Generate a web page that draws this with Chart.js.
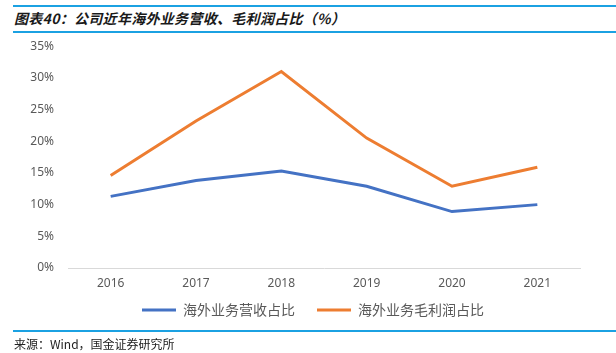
<!DOCTYPE html>
<html><head><meta charset="utf-8">
<script src="https://cdn.jsdelivr.net/npm/chart.js@4"></script>
<style>
html,body{margin:0;padding:0;background:#fff;}
#wrap{position:relative;width:616px;height:353px;overflow:hidden;}
.rule{position:absolute;left:13px;right:0;height:2px;background:#1ba1e2;}
#title{position:absolute;left:14px;top:8px;font-family:"Noto Sans CJK SC";font-weight:bold;font-size:14px;color:#1a1a1a;font-style:italic;letter-spacing:0.3px;}
#foot{position:absolute;left:14px;top:335px;font-family:"Noto Sans CJK SC";font-size:12px;color:#222;}
#cv{position:absolute;left:0;top:25px;}
</style></head>
<body><div id="wrap">
<div class="rule" style="top:5px"></div>
<div id="title">图表40：公司近年海外业务营收、毛利润占比（%）</div>
<div class="rule" style="top:31px"></div>
<canvas id="cv" width="616" height="315"></canvas>
<div class="rule" style="top:330px;height:1.5px"></div>
<div id="foot">来源：Wind，国金证券研究所</div>
</div>
<script>
const categories = ["2016","2017","2018","2019","2020","2021"];
const revenueShare = [11.3, 13.8, 15.3, 12.9, 8.9, 10.0];
const grossProfitShare = [14.6, 23.2, 31.0, 20.5, 12.9, 15.9];
const seriesNames = ["海外业务营收占比","海外业务毛利润占比"];
const yTicks = [0,5,10,15,20,25,30,35];

const shiftLegend = {
  id: 'shiftLegend',
  afterLayout(chart) {
    const lg = chart.legend;
    lg.left += 23; lg.right += 23;
    lg.top -= 13; lg.bottom -= 13;
  }
};

new Chart(document.getElementById('cv'), {
  type: 'line',
  data: {
    labels: categories,
    datasets: [
      {label: seriesNames[0], data: revenueShare, borderColor: '#4472C4', backgroundColor: '#4472C4', borderWidth: 3, pointRadius: 0, tension: 0},
      {label: seriesNames[1], data: grossProfitShare, borderColor: '#ED7D31', backgroundColor: '#ED7D31', borderWidth: 3, pointRadius: 0, tension: 0}
    ]
  },
  plugins: [shiftLegend],
  options: {
    responsive: false, animation: false,
    layout: {padding: {left: 0, right: 36, top: 4, bottom: 0}},
    plugins: {
      tooltip: {enabled: false},
      legend: {
        position: 'bottom',
        labels: {
          boxWidth: 34, boxHeight: 3,
          generateLabels: ch => ch.data.datasets.map((d, i) => ({
            text: d.label, fillStyle: d.borderColor, strokeStyle: d.borderColor, lineWidth: 0,
            fontColor: '#595959', datasetIndex: i, hidden: false
          })),
          color: '#595959', font: {family: '"Noto Sans CJK SC"', size: 14}, padding: 22
        }
      }
    },
    scales: {
      x: {
        offset: true,
        grid: {display: false, drawTicks: false},
        border: {display: true, color: '#d9d9d9', width: 1},
        ticks: {color: '#595959', font: {family: '"Noto Sans", sans-serif', size: 12}, padding: 8},
        afterFit: s => { s.height = 26; }
      },
      y: {
        min: 0, max: 35,
        afterBuildTicks: s => { s.ticks = yTicks.map(v => ({value: v})); },
        grid: {display: false, drawTicks: false},
        border: {display: false},
        ticks: {color: '#595959', font: {family: '"Noto Sans", sans-serif', size: 12}, padding: 14, callback: v => v + '%'},
        afterFit: s => { s.width = 68; }
      }
    }
  }
});
</script>
</body></html>
